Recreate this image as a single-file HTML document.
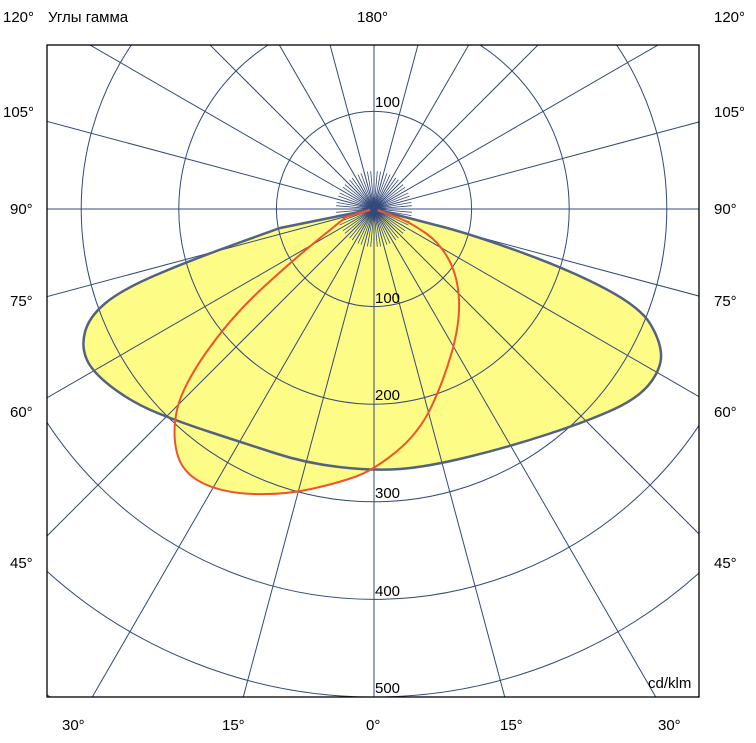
<!DOCTYPE html>
<html><head><meta charset="utf-8"><style>
html,body{margin:0;padding:0;background:#fff;width:756px;height:743px;overflow:hidden;}
svg{display:block;font-family:"Liberation Sans",Arial,sans-serif;}
</style></head><body>
<svg width="756" height="743" viewBox="0 0 756 743" xmlns="http://www.w3.org/2000/svg">
<defs><clipPath id="c"><rect x="47" y="45" width="652" height="652"/></clipPath>
<g id="q" stroke="#34497a" stroke-width="0.8">
<line x1="0" y1="0" x2="3.31" y2="37.86"/><line x1="0" y1="0" x2="6.6" y2="37.42"/>
<line x1="0" y1="0" x2="13" y2="35.71"/><line x1="0" y1="0" x2="16.06" y2="34.44"/>
<line x1="0" y1="0" x2="21.8" y2="31.13"/><line x1="0" y1="0" x2="24.43" y2="29.11"/>
<line x1="0" y1="0" x2="29.11" y2="24.43"/><line x1="0" y1="0" x2="31.13" y2="21.8"/>
<line x1="0" y1="0" x2="34.44" y2="16.06"/><line x1="0" y1="0" x2="35.71" y2="13"/>
<line x1="0" y1="0" x2="37.42" y2="6.6"/><line x1="0" y1="0" x2="37.86" y2="3.31"/>
</g></defs>
<rect x="47" y="45" width="652" height="652" fill="#fff"/>
<g clip-path="url(#c)">
<path id="yel" fill="#fdfc86" stroke="none" d="M374,209 L280,228 L235.5,244 Q191,260 156,275 Q121,290 105,303.5 Q89,317 85,332 Q81,347 87,360 Q93,373 113,388 Q133,403 157.5,413 Q182,423 213,433 Q244,443 274.5,453 Q305,463 339,467 Q373,471 400,469 Q427,467 468,457 Q509,447 550,433.5 Q591,420 615.5,408.5 Q640,397 651,382 Q662,367 661,353.5 Q660,340 650,323.5 Q640,307 605,288.5 Q570,270 519,251.5 Q468,233 437.5,225.5 L374,209 Z"/>
<path fill="#fdfc86" stroke="none" d="M374,209 L346,217 L319.5,238.5 Q293,260 262,288.5 Q231,317 206.5,352 Q182,387 177,410 Q172,433 177,453 Q182,473 202.5,483 Q223,493 253.5,494 Q284,495 311,489 Q338,483 356,476.5 Q374,470 396.5,451.5 Q419,433 431.5,406.5 Q444,380 452,351.5 Q460,323 459,300 Q458,277 449,260 Q440,243 425.5,233 Q411,223 399,218 L374,209 Z"/>
<g fill="none" stroke="#34497a" stroke-width="1">
<circle cx="374" cy="209" r="97.6"/>
<circle cx="374" cy="209" r="195.2"/>
<circle cx="374" cy="209" r="292.8"/>
<circle cx="374" cy="209" r="390.4"/>
<circle cx="374" cy="209" r="488"/>
<circle cx="374" cy="209" r="585.6"/>
<line x1="374" y1="209" x2="374" y2="1209"/>
<line x1="374" y1="209" x2="374" y2="-791"/>
<line x1="-626" y1="209" x2="1374" y2="209"/>
<line x1="374" y1="209" x2="632.8" y2="1175"/><line x1="374" y1="209" x2="115.2" y2="1175"/>
<line x1="374" y1="209" x2="874" y2="1075"/><line x1="374" y1="209" x2="-126" y2="1075"/>
<line x1="374" y1="209" x2="1081" y2="916"/><line x1="374" y1="209" x2="-333" y2="916"/>
<line x1="374" y1="209" x2="1240" y2="709"/><line x1="374" y1="209" x2="-492" y2="709"/>
<line x1="374" y1="209" x2="1340" y2="467.8"/><line x1="374" y1="209" x2="-592" y2="467.8"/>
<line x1="374" y1="209" x2="1340" y2="-49.8"/><line x1="374" y1="209" x2="-592" y2="-49.8"/>
<line x1="374" y1="209" x2="1240" y2="-291"/><line x1="374" y1="209" x2="-492" y2="-291"/>
<line x1="374" y1="209" x2="1081" y2="-498"/><line x1="374" y1="209" x2="-333" y2="-498"/>
<line x1="374" y1="209" x2="874" y2="-657"/><line x1="374" y1="209" x2="-126" y2="-657"/>
<line x1="374" y1="209" x2="632.8" y2="-757"/><line x1="374" y1="209" x2="115.2" y2="-757"/>
</g>
<use href="#q" transform="translate(374,209)"/>
<use href="#q" transform="translate(374,209) scale(-1,1)"/>
<use href="#q" transform="translate(374,209) scale(1,-1)"/>
<use href="#q" transform="translate(374,209) scale(-1,-1)"/>
<path fill="none" stroke="#53627f" stroke-width="2.5" stroke-linejoin="round" d="M374,209 L280,228 L235.5,244 Q191,260 156,275 Q121,290 105,303.5 Q89,317 85,332 Q81,347 87,360 Q93,373 113,388 Q133,403 157.5,413 Q182,423 213,433 Q244,443 274.5,453 Q305,463 339,467 Q373,471 400,469 Q427,467 468,457 Q509,447 550,433.5 Q591,420 615.5,408.5 Q640,397 651,382 Q662,367 661,353.5 Q660,340 650,323.5 Q640,307 605,288.5 Q570,270 519,251.5 Q468,233 437.5,225.5 L374,209 Z"/>
<path fill="none" stroke="#f0522c" stroke-width="2" stroke-linejoin="round" d="M374,209 L346,217 L319.5,238.5 Q293,260 262,288.5 Q231,317 206.5,352 Q182,387 177,410 Q172,433 177,453 Q182,473 202.5,483 Q223,493 253.5,494 Q284,495 311,489 Q338,483 356,476.5 Q374,470 396.5,451.5 Q419,433 431.5,406.5 Q444,380 452,351.5 Q460,323 459,300 Q458,277 449,260 Q440,243 425.5,233 Q411,223 399,218 L374,209"/>
<circle cx="374" cy="209" r="4" fill="#34497a"/>
<g font-size="15" fill="#000">
<text x="375" y="107">100</text>
<text x="375" y="303">100</text>
<text x="375" y="400">200</text>
<text x="375" y="498">300</text>
<text x="375" y="596">400</text>
<text x="375" y="693">500</text>
<text x="648" y="688">cd/klm</text>
</g>
</g>
<rect x="47" y="45" width="652" height="652" fill="none" stroke="#000" stroke-width="1.3"/>
<g font-size="15" fill="#000">
<text x="3" y="22">120°</text>
<text x="48" y="22">Углы гамма</text>
<text x="357" y="22">180°</text>
<text x="714" y="22">120°</text>
<text x="3" y="117">105°</text><text x="714" y="117">105°</text>
<text x="10" y="214">90°</text><text x="714" y="214">90°</text>
<text x="10" y="306">75°</text><text x="714" y="306">75°</text>
<text x="10" y="417">60°</text><text x="714" y="417">60°</text>
<text x="10" y="568">45°</text><text x="714" y="568">45°</text>
<text x="62" y="730">30°</text>
<text x="222" y="730">15°</text>
<text x="366" y="730">0°</text>
<text x="500" y="730">15°</text>
<text x="658" y="730">30°</text>
</g>
</svg>
</body></html>
